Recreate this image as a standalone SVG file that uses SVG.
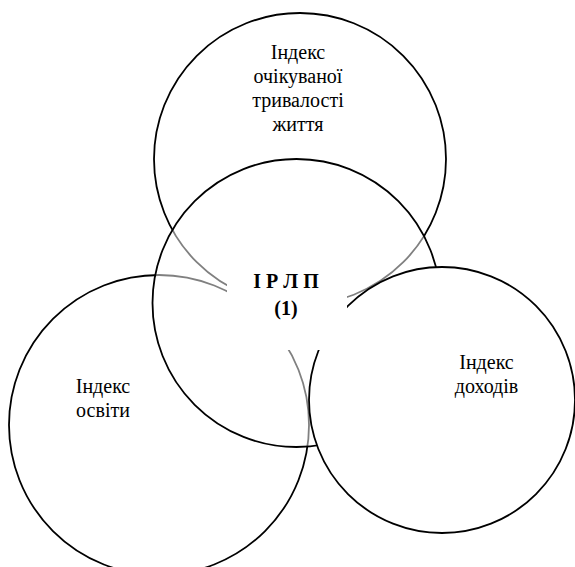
<svg xmlns="http://www.w3.org/2000/svg" width="575" height="567" viewBox="0 0 575 567">
<style>
.c{stroke:#000;stroke-width:1.8}
</style>
<rect width="575" height="567" fill="#fff"/>
<g id="node-life">
<circle class="c" cx="300" cy="159" r="146" fill="none"/>
</g>
<g id="node-education">
<circle class="c" cx="159" cy="425" r="150" fill="none"/>
</g>
<g id="node-center">
<circle class="c" cx="296.5" cy="303" r="144" fill="#fff" fill-opacity="0.5"/>
</g>
<g id="node-income">
<circle class="c" cx="442" cy="400" r="133" fill="#fff"/>
</g>
<g id="node-center-label" font-family="Liberation Serif" font-size="20" text-anchor="middle" font-weight="bold">
<rect x="227" y="272" width="120" height="78" fill="#fff"/>
<text x="286" y="288">І Р Л П</text>
<text x="286" y="315">(1)</text>
</g>
<g id="labels" font-family="Liberation Serif" font-size="20" text-anchor="middle">
<text x="298" y="58.5">Індекс</text>
<text x="298" y="82.5">очікуваної</text>
<text x="298" y="106.5">тривалості</text>
<text x="298" y="130.5">життя</text>
<text x="103" y="393">Індекс</text>
<text x="103" y="417">освіти</text>
<text x="486.5" y="369">Індекс</text>
<text x="486.5" y="393">доходів</text>
</g>
<g id="connectors"></g>
</svg>
